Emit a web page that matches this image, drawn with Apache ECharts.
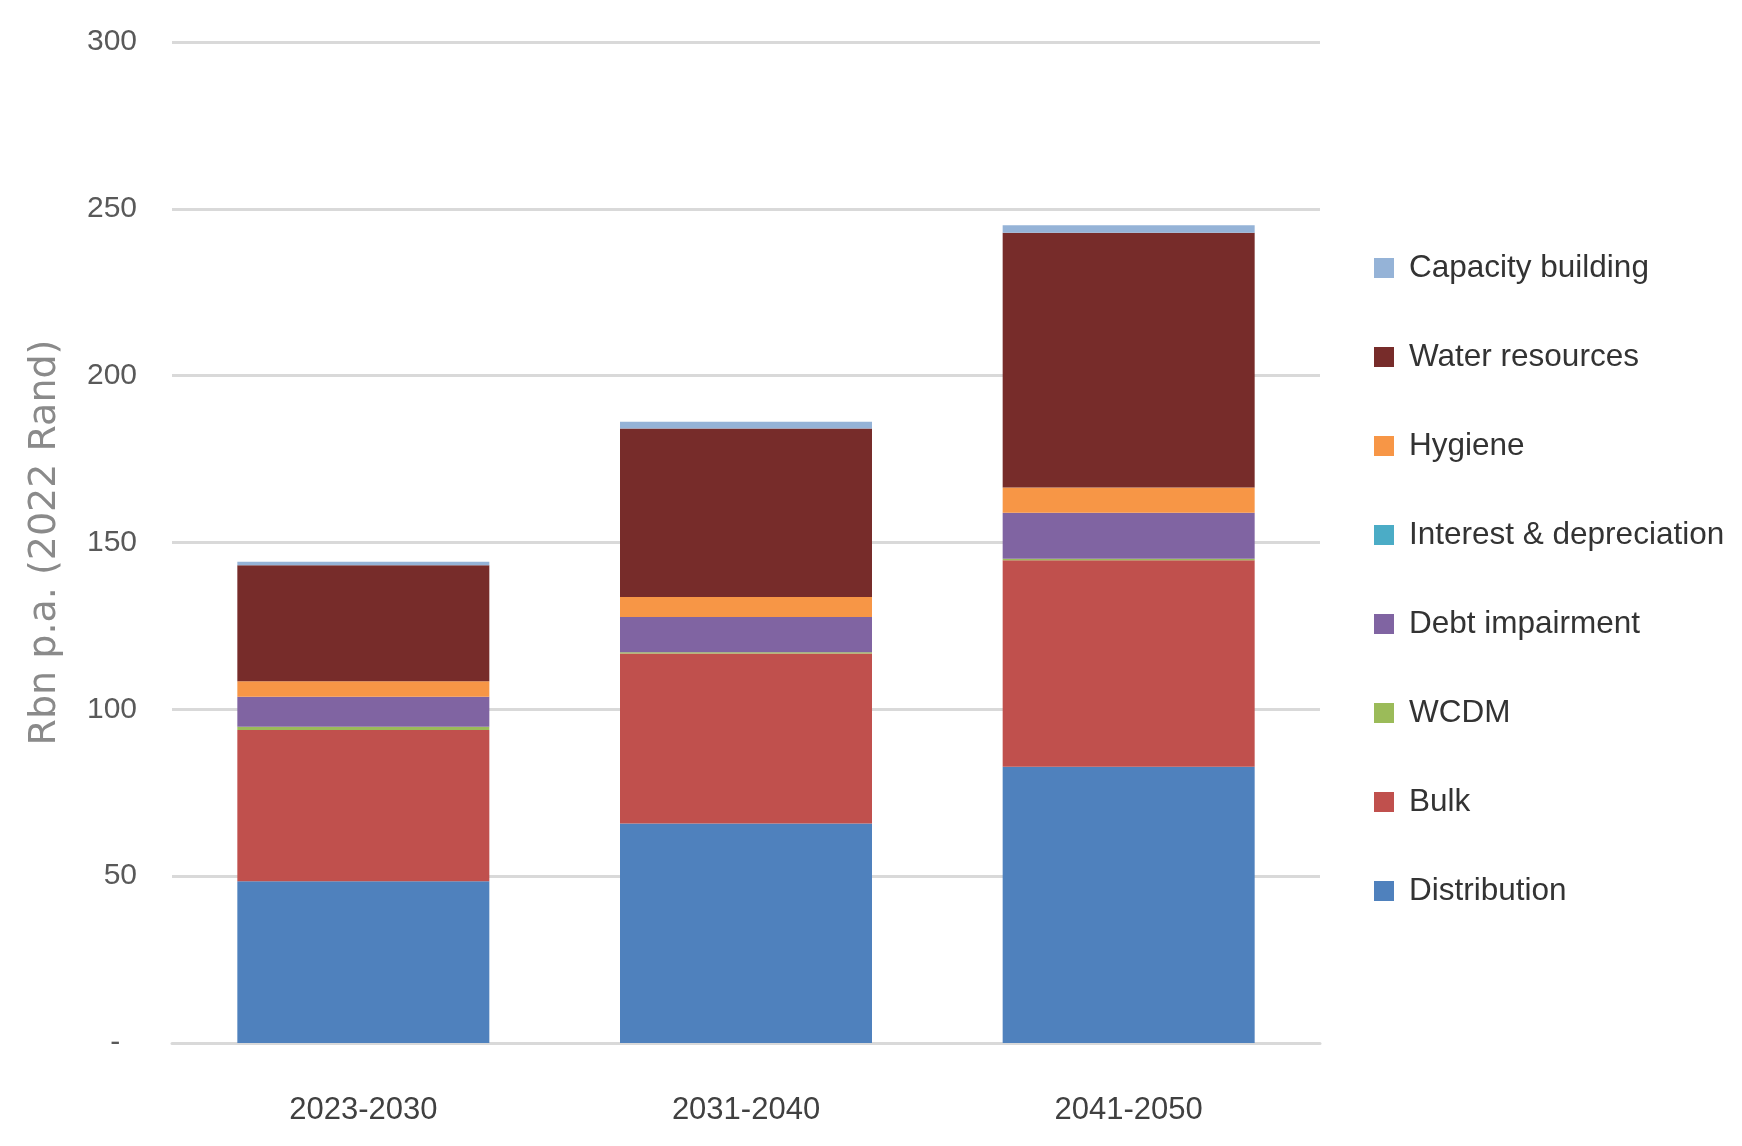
<!DOCTYPE html>
<html>
<head>
<meta charset="utf-8">
<script src="https://cdn.jsdelivr.net/npm/echarts@6/dist/echarts.min.js"></script>
<style>
html,body{margin:0;padding:0;background:#fff;}
#chart{width:1742px;height:1146px;}
</style>
</head>
<body>
<div id="chart"></div>
<script>
const categories = ['2023-2030', '2031-2040', '2041-2050'];
const distribution = [48.5, 65.8, 82.8];
const bulk = [45.3, 50.9, 61.9];
const wcdm = [1.0, 0.4, 0.4];
const debtImpairment = [9.0, 10.6, 13.8];
const interestDepreciation = [0, 0, 0];
const hygiene = [4.6, 6.0, 7.6];
const waterResources = [34.8, 50.5, 76.3];
const capacityBuilding = [1.0, 2.0, 2.3];
const yTicks = [0, 50, 100, 150, 200, 250, 300];

const font = '"Liberation Sans", Arial, sans-serif';
const seriesDefs = [
  ['Distribution', distribution, '#4F81BD'],
  ['Bulk', bulk, '#C0504D'],
  ['WCDM', wcdm, '#9BBB59'],
  ['Debt impairment', debtImpairment, '#8064A2'],
  ['Interest & depreciation', interestDepreciation, '#4BACC6'],
  ['Hygiene', hygiene, '#F79646'],
  ['Water resources', waterResources, '#772C2A'],
  ['Capacity building', capacityBuilding, '#95B3D7']
];

const chart = echarts.init(document.getElementById('chart'));
chart.setOption({
  backgroundColor: '#ffffff',
  animation: false,
  grid: { left: 172, right: 422, top: 42, bottom: 103 },
  legend: {
    orient: 'vertical',
    left: 1369,
    top: 247,
    itemWidth: 20,
    itemHeight: 20,
    itemGap: 57,
    icon: 'rect',
    data: ['Capacity building', 'Water resources', 'Hygiene', 'Interest & depreciation', 'Debt impairment', 'WCDM', 'Bulk', 'Distribution'],
    textStyle: { fontFamily: font, fontSize: 31.5, color: '#333333', padding: [0, 0, 0, 10] }
  },
  xAxis: {
    type: 'category',
    data: categories,
    axisLine: { show: true, lineStyle: { color: '#d9d9d9', width: 3 } },
    axisTick: { show: false },
    axisLabel: { fontFamily: font, fontSize: 31, color: '#404040', margin: 52 }
  },
  yAxis: {
    type: 'value',
    min: yTicks[0],
    max: yTicks[yTicks.length - 1],
    interval: 50,
    name: 'Rbn p.a. (2022 Rand)',
    nameLocation: 'middle',
    nameGap: 108,
    nameTextStyle: { fontFamily: '"DejaVu Sans", sans-serif', fontSize: 38, color: '#8a8a8a' },
    axisLine: { show: false },
    axisTick: { show: false },
    splitLine: { lineStyle: { color: '#d9d9d9', width: 3 } },
    axisLabel: {
      fontFamily: font, fontSize: 30, color: '#595959', margin: 35,
      formatter: v => v === 0 ? '-  ' : String(v)
    }
  },
  series: seriesDefs.map(([name, data, color]) => ({
    name: name,
    type: 'bar',
    stack: 'total',
    data: data,
    barWidth: 252,
    itemStyle: { color: color },
    emphasis: { disabled: true }
  }))
});
</script>
</body>
</html>
